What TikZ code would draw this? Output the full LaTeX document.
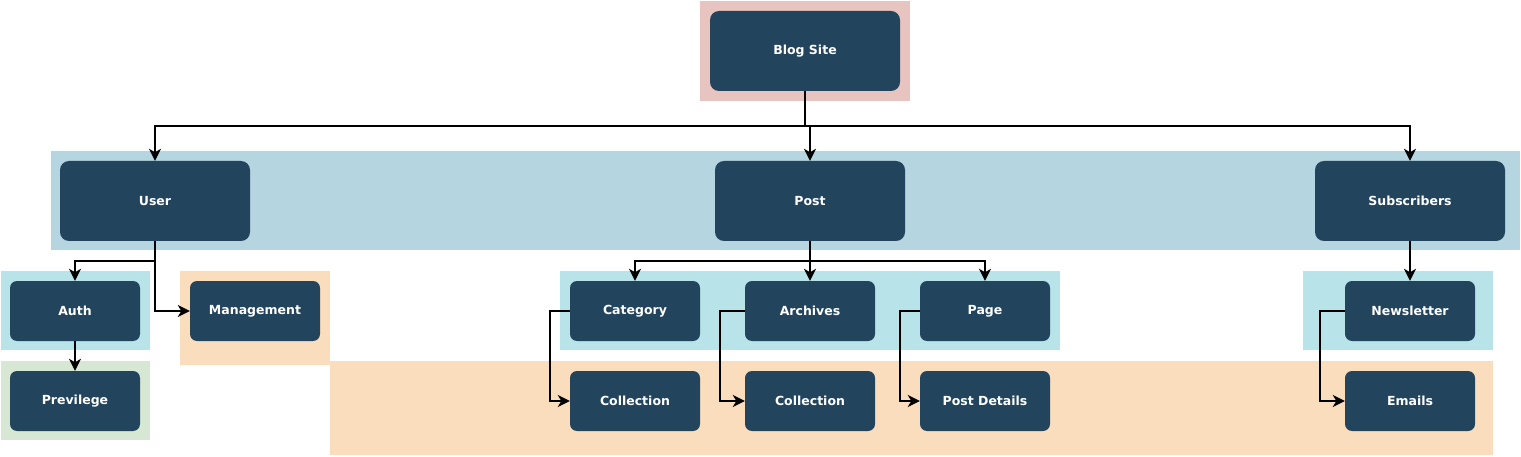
\documentclass[tikz,border=0pt]{standalone}
\usepackage{fontspec}
\setmainfont{DejaVu Sans}
\usetikzlibrary{arrows.meta}
\definecolor{nodefill}{RGB}{35,68,93}
\definecolor{pinkbg}{RGB}{231,196,191}
\definecolor{bluebg}{RGB}{181,213,225}
\definecolor{cyanbg}{RGB}{184,227,232}
\definecolor{greenbg}{RGB}{214,232,212}
\definecolor{orangebg}{RGB}{250,221,188}
\tikzset{
  box/.style={draw=none, fill=nodefill, rounded corners=9pt, text=white,
    font=\fontsize{12.5}{14}\selectfont\bfseries, inner sep=0pt},
  bigbox/.style={box, minimum width=190pt, minimum height=80pt},
  smallbox/.style={box, minimum width=130pt, minimum height=60pt, rounded corners=7pt},
  conn/.style={line width=2pt, -{Stealth[length=12pt,width=12pt,inset=3.5pt]}},
}
\begin{document}
\begin{tikzpicture}[x=1pt,y=-1pt]
\useasboundingbox (0,0) rectangle (1521,457);
% background bands
\fill[pinkbg] (700,1) rectangle (910,101);
\fill[bluebg] (51,151) rectangle (1520,250);
\fill[cyanbg] (1,271) rectangle (150,350);
\fill[greenbg] (1,361) rectangle (150,440);
\fill[orangebg] (180,271) rectangle (330,365);
\fill[orangebg] (330,361) rectangle (1493,455);
\fill[cyanbg] (560,271) rectangle (1060,350);
\fill[cyanbg] (1303,271) rectangle (1493,350);
% nodes
\node[bigbox] (blog) at (805,51) {Blog Site};
\node[bigbox] (user) at (155,201) {User};
\node[bigbox] (post) at (810,201) {Post};
\node[bigbox] (subs) at (1410,201) {Subscribers};
\node[smallbox] (auth) at (75,311) {Auth};
\node[smallbox] (prev) at (75,401) {Previlege};
\node[smallbox] (mgmt) at (255,311) {Management};
\node[smallbox] (cat) at (635,311) {Category};
\node[smallbox] (arch) at (810,311) {Archives};
\node[smallbox] (page) at (985,311) {Page};
\node[smallbox] (coll1) at (635,401) {Collection};
\node[smallbox] (coll2) at (810,401) {Collection};
\node[smallbox] (details) at (985,401) {Post Details};
\node[smallbox] (news) at (1410,311) {Newsletter};
\node[smallbox] (emails) at (1410,401) {Emails};
% connectors
\coordinate (bj) at (805,126);
\draw[conn] (blog.south) -- (bj) -| (user.north);
\draw[conn] (blog.south) -- (bj) -| (subs.north);
\draw[conn] (blog.south) -- (bj) -- (810,126) -- (post.north);
\coordinate (uj) at (155,261);
\draw[conn] (user.south) -- (uj) -| (auth.north);
\draw[conn] (user.south) -- (uj) |- (mgmt.west);
\draw[conn] (auth.south) -- (prev.north);
\coordinate (pj) at (810,261);
\draw[conn] (post.south) -- (pj) -| (cat.north);
\draw[conn] (post.south) -- (pj) -| (page.north);
\draw[conn] (post.south) -- (arch.north);
\draw[conn] (cat.west) -- ++(-20,0) |- (coll1.west);
\draw[conn] (arch.west) -- ++(-25,0) |- (coll2.west);
\draw[conn] (page.west) -- ++(-20,0) |- (details.west);
\draw[conn] (subs.south) -- (news.north);
\draw[conn] (news.west) -- ++(-25,0) |- (emails.west);
\end{tikzpicture}
\end{document}
